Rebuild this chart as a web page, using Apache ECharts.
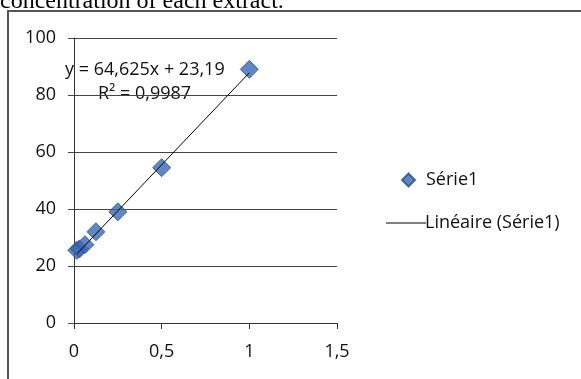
<!DOCTYPE html>
<html>
<head>
<meta charset="utf-8">
<script src="https://cdn.jsdelivr.net/npm/echarts@6/dist/echarts.min.js"></script>
<style>
  html, body { margin: 0; padding: 0; background: #fff; }
  #chart { width: 581px; height: 379px; }
</style>
</head>
<body>
<div id="chart"></div>
<script>
// dilution concentrations and measured values
var concentrations = [0.015625, 0.03125, 0.0625, 0.125, 0.25, 0.5, 1]
var values = [25.5, 26, 27.5, 32, 39, 54.5, 89]
var xTicks = [0, 0.5, 1, 1.5]
var yTicks = [0, 20, 40, 60, 80, 100]
// trendline shown on the chart: y = 64,625x + 23,19
var slope = 64.625
var intercept = 23.19
var rSquared = '0,9987'

var xMin = Math.min.apply(null, concentrations)
var xMax = Math.max.apply(null, concentrations)
var trendData = [
  [xMin, slope * xMin + intercept],
  [xMax, slope * xMax + intercept]
]

var labelFont = 'Open Sans'
var chart = echarts.init(document.getElementById('chart'))

chart.setOption({
  animation: false,
  textStyle: { fontFamily: labelFont },
  grid: {
    left: 74,
    right: 244,
    top: 38,
    bottom: 56
  },
  xAxis: {
    type: 'value',
    min: xTicks[0],
    max: xTicks[xTicks.length - 1],
    interval: 0.5,
    axisLine: { lineStyle: { color: '#333', width: 1 } },
    axisTick: { show: true, length: 6, lineStyle: { color: '#333' } },
    axisLabel: {
      color: '#111',
      fontSize: 18,
      margin: 20,
      formatter: function(v) { return String(v).replace('.', ',') }
    },
    splitLine: { show: false }
  },
  yAxis: {
    type: 'value',
    min: yTicks[0],
    max: yTicks[yTicks.length - 1],
    interval: 20,
    axisLine: { show: true, lineStyle: { color: '#333', width: 1 } },
    axisTick: { show: true, length: 6, lineStyle: { color: '#444' } },
    axisLabel: { color: '#111', fontSize: 18, margin: 18 },
    splitLine: { show: true, lineStyle: { color: '#444', width: 1 } }
  },
  legend: [{
    orient: 'vertical',
    left: 396,
    top: 166,
    icon: 'diamond',
    itemWidth: 13,
    itemHeight: 13,
    itemGap: 10,
    textStyle: { fontSize: 18, color: '#111', fontFamily: labelFont, padding: [0, 0, 0, 6] },
    data: ['Série1']
  }, {
    orient: 'vertical',
    left: 381,
    top: 209,
    icon: 'rect',
    itemWidth: 40,
    itemHeight: 1,
    itemGap: 10,
    textStyle: { fontSize: 18, color: '#111', fontFamily: labelFont, padding: [0, 0, 0, -6] },
    data: [{ name: 'Linéaire (Série1)', itemStyle: { color: '#000' } }]
  }],
  graphic: [{
    type: 'rect',
    shape: { x: 8, y: 11, width: 600, height: 400 },
    style: { fill: null, stroke: '#555', lineWidth: 2 },
    silent: true
  }, {
    type: 'text',
    left: 0,
    top: -10,
    style: {
      text: 'concentration of each extract.',
      fontSize: 24,
      fontFamily: 'Liberation Serif',
      fill: '#000'
    }
  }, {
    type: 'text',
    left: 65,
    top: 61,
    style: {
      text: 'y = 64,625x + 23,19',
      fontSize: 18,
      fontFamily: labelFont,
      fill: '#111'
    }
  }, {
    type: 'text',
    left: 98,
    top: 85,
    style: {
      text: 'R² = ' + rSquared,
      fontSize: 18,
      fontFamily: labelFont,
      fill: '#111'
    }
  }],
  series: [{
    name: 'Série1',
    type: 'scatter',
    symbol: 'diamond',
    symbolSize: 18,
    itemStyle: {
      color: '#3a68b0',
      borderColor: '#24508f',
      borderWidth: 1
    },
    z: 3,
    data: concentrations.map(function(c, i) { return [c, values[i]] })
  }, {
    name: 'Linéaire (Série1)',
    type: 'line',
    symbol: 'none',
    lineStyle: { color: '#000', width: 1 },
    itemStyle: { color: '#000' },
    z: 4,
    data: trendData
  }]
})
</script>
</body>
</html>
